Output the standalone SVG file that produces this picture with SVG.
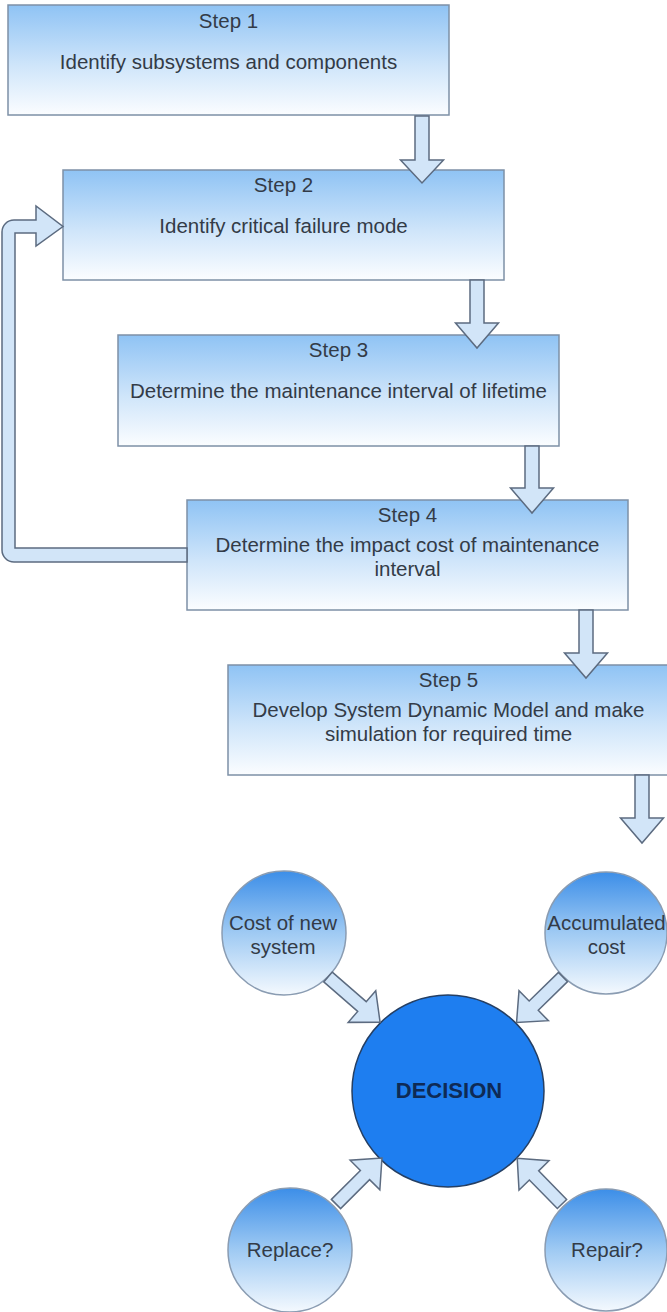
<svg xmlns="http://www.w3.org/2000/svg" width="667" height="1312" viewBox="0 0 667 1312">
<defs>
<linearGradient id="boxGrad" x1="0" y1="0" x2="0" y2="1">
<stop offset="0" stop-color="#8fc3f4"/>
<stop offset="0.55" stop-color="#cfe5fa"/>
<stop offset="1" stop-color="#fbfdff"/>
</linearGradient>
<linearGradient id="circGrad" x1="0" y1="0" x2="0" y2="1">
<stop offset="0" stop-color="#3c8ee8"/>
<stop offset="0.5" stop-color="#9fcaf3"/>
<stop offset="1" stop-color="#f4f9fe"/>
</linearGradient>
</defs>
<style>
.box{fill:url(#boxGrad);stroke:#7d90a6;stroke-width:1.5}
.circ{fill:url(#circGrad);stroke:#8a9cb2;stroke-width:1.5}
.dec{fill:#1e7ef0;stroke:#253f63;stroke-width:1.5}
.arr{fill:#d2e5f8;stroke:#5c6b80;stroke-width:1.5;stroke-linejoin:miter}
text{font-family:"Liberation Sans",Arial,sans-serif;font-size:20.5px;fill:#333b47;text-anchor:middle}
.bold{font-weight:bold;font-size:22px;fill:#0e2a55}
</style>
<rect width="667" height="1312" fill="#ffffff"/>

<g id="step1">
<rect class="box" x="8" y="5" width="441" height="110"/>
<text x="228.5" y="28">Step 1</text>
<text x="228.5" y="69">Identify subsystems and components</text>
</g>
<g id="step2">
<rect class="box" x="63" y="170" width="441" height="110"/>
<text x="283.5" y="192">Step 2</text>
<text x="283.5" y="233">Identify critical failure mode</text>
</g>
<g id="step3">
<rect class="box" x="118" y="335" width="441" height="111"/>
<text x="338.5" y="357">Step 3</text>
<text x="338.5" y="398">Determine the maintenance interval of lifetime</text>
</g>
<g id="step4">
<rect class="box" x="187" y="500" width="441" height="110"/>
<text x="407.5" y="522">Step 4</text>
<text x="407.5" y="552">Determine the impact cost of maintenance</text>
<text x="407.5" y="576">interval</text>
</g>
<g id="step5">
<rect class="box" x="228" y="665" width="441" height="110"/>
<text x="448.5" y="687">Step 5</text>
<text x="448.5" y="717">Develop System Dynamic Model and make</text>
<text x="448.5" y="741">simulation for required time</text>
</g>

<g id="costNew">
<circle class="circ" cx="284" cy="933" r="62"/>
<text x="283" y="930">Cost of new</text>
<text x="283" y="954">system</text>
</g>
<g id="accumulated">
<circle class="circ" cx="606" cy="933" r="61"/>
<text x="606.5" y="930">Accumulated</text>
<text x="606.5" y="954">cost</text>
</g>
<g id="replace">
<circle class="circ" cx="290" cy="1250" r="62"/>
<text x="290" y="1257">Replace?</text>
</g>
<g id="repair">
<circle class="circ" cx="606" cy="1250" r="61"/>
<text x="607" y="1257">Repair?</text>
</g>
<g id="decision">
<circle class="dec" cx="448" cy="1091" r="96"/>
<text class="bold" x="449" y="1098">DECISION</text>
</g>

<g id="connectors">
<path class="arr" d="M415,116 H429 V160 H443.5 L422,183 L400.5,160 H415 Z"/>
<path class="arr" d="M470,280 H484 V323 H498.5 L477,348 L455.5,323 H470 Z"/>
<path class="arr" d="M525,446 H539 V488 H553.5 L532,513 L510.5,488 H525 Z"/>
<path class="arr" d="M579,610 H593 V653 H607.5 L586,678 L564.5,653 H579 Z"/>
<path class="arr" d="M635,775 H649 V818 H663.5 L642,843 L620.5,818 H635 Z"/>
<path class="arr" d="M187,548 H15 V233 H36 V246 L63,226.5 L36,206 V220 H14 A12,12 0 0 0 2,232 V550 A12,12 0 0 0 14,562 H187 Z"/>
<g transform="translate(328,977) rotate(41)"><path class="arr" d="M0,-6.5 H45 V-21 L69,0 L45,21 V6.5 H0 Z"/></g>
<g transform="translate(563,977) rotate(135.6)"><path class="arr" d="M0,-6.5 H41 V-21 L65,0 L41,21 V6.5 H0 Z"/></g>
<g transform="translate(336,1204) rotate(-45)"><path class="arr" d="M0,-6.5 H41 V-21 L65,0 L41,21 V6.5 H0 Z"/></g>
<g transform="translate(562,1204) rotate(-134.4)"><path class="arr" d="M0,-6.5 H40 V-21 L64,0 L40,21 V6.5 H0 Z"/></g>
</g>
</svg>
